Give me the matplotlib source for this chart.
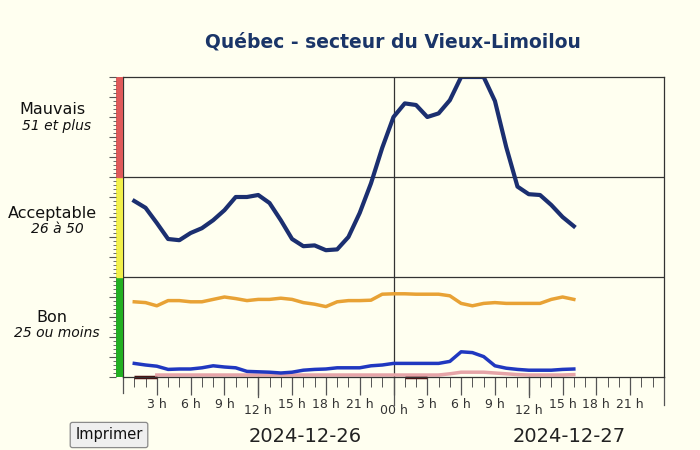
import numpy as np
import matplotlib.pyplot as plt
from matplotlib.ticker import MultipleLocator

hours = list(range(1, 41))
# indice principal (ligne bleu marine)
iqa = [44, 42.3, 38.5, 34.5, 34.2, 36, 37.2, 39.2, 41.7, 45,
       45, 45.5, 43.5, 39.2, 34.5, 32.7, 32.9, 31.7, 31.9, 35,
       41, 48.4, 57.3, 65, 68.4, 68, 65, 65.9, 69.2, 75,
       75, 75, 69, 57.5, 47.6, 45.7, 45.5, 43, 40, 37.7]
orange = [18.8, 18.6, 17.8, 19.1, 19.1, 18.8, 18.8, 19.4, 20, 19.6,
          19.1, 19.4, 19.4, 19.7, 19.4, 18.6, 18.2, 17.6, 18.8, 19.1,
          19.1, 19.2, 20.7, 20.8, 20.8, 20.7, 20.7, 20.7, 20.3, 18.4,
          17.8, 18.4, 18.6, 18.4, 18.4, 18.4, 18.4, 19.4, 20, 19.4]
bleu = [3.4, 3.0, 2.7, 1.9, 2.0, 2.0, 2.3, 2.8, 2.5, 2.3,
        1.4, 1.3, 1.2, 1.0, 1.2, 1.7, 1.9, 2.0, 2.3, 2.3,
        2.3, 2.8, 3.0, 3.4, 3.4, 3.4, 3.4, 3.4, 3.9, 6.3,
        6.1, 5.1, 2.8, 2.2, 1.9, 1.7, 1.7, 1.7, 1.9, 2.0]
rose = [np.nan, np.nan, 0.5, 0.5, 0.5, 0.5, 0.5, 0.5, 0.5, 0.5,
        0.5, 0.5, 0.5, 0.5, 0.5, 0.5, 0.5, 0.5, 0.5, 0.5,
        0.5, 0.5, 0.5, 0.5, 0.5, 0.5, 0.5, 0.5, 0.8, 1.2,
        1.2, 1.2, 1.0, 0.8, 0.6, 0.5, 0.5, 0.5, 0.5, 0.6]
brun = [0, 0, 0, np.nan, np.nan, np.nan, np.nan, np.nan, np.nan, np.nan,
        np.nan, np.nan, np.nan, np.nan, np.nan, np.nan, np.nan, np.nan, np.nan, np.nan,
        np.nan, np.nan, np.nan, np.nan, 0, 0, 0, np.nan, np.nan, np.nan,
        np.nan, np.nan, np.nan, np.nan, np.nan, np.nan, np.nan, np.nan, np.nan, np.nan]

bands = [(0, 25, '#22b022'), (25, 50, '#f2f04a'), (50, 75, '#e05a5a')]
band_names = ['Bon', 'Acceptable', 'Mauvais']
band_ranges = ['25 ou moins', '26 à 50', '51 et plus']
tick_hours = [3, 6, 9, 12, 15, 18, 21, 24, 27, 30, 33, 36, 39, 42, 45]
tick_labels = ['3 h', '6 h', '9 h', '12 h', '15 h', '18 h', '21 h', '00 h',
               '3 h', '6 h', '9 h', '12 h', '15 h', '18 h', '21 h']
dates = ['2024-12-26', '2024-12-27']

bg = '#fffff0'
W, H = 700, 450
fig = plt.figure(figsize=(7, 4.5), dpi=100, facecolor=bg)

def fx(px): return px / W
def fy(py): return 1 - py / H

ax = fig.add_axes([fx(123), fy(377), fx(664 - 123), fy(77) - fy(377)])
ax.set_facecolor(bg)
ax.set_xlim(0, 48)
ax.set_ylim(0, 75)

# barre de couleur à gauche
cax = fig.add_axes([fx(116), fy(377), fx(7), fy(77) - fy(377)])
cax.set_xlim(0, 1)
cax.set_ylim(0, 75)
for lo, hi, c in bands:
    cax.axhspan(lo, hi, color=c)
cax.set_xticks([])
cax.yaxis.set_major_locator(MultipleLocator(5))
cax.yaxis.set_minor_locator(MultipleLocator(1))
cax.tick_params(axis='y', which='major', length=5, width=0.8, color='#555555', labelleft=False)
cax.tick_params(axis='y', which='minor', length=2, width=0.6, color='#555555')
for s in cax.spines.values():
    s.set_visible(False)

ax.axhline(25, color='#333333', lw=0.9)
ax.axhline(50, color='#333333', lw=0.9)
ax.axvline(24, color='#333333', lw=0.9)

ax.plot(hours, brun, color='#4a1010', lw=2.5, solid_capstyle='butt', clip_on=False)
ax.plot(hours, rose, color='#e6a4a8', lw=2.5)
ax.plot(hours, orange, color='#e8a235', lw=2.5)
ax.plot(hours, bleu, color='#2038c0', lw=2.5)
ax.plot(hours, iqa, color='#1b2f70', lw=3)

for s in ax.spines.values():
    s.set_color('#333333')
    s.set_linewidth(0.9)
ax.set_yticks([])

ax.xaxis.set_minor_locator(MultipleLocator(1))
ax.tick_params(axis='x', which='minor', length=7, width=0.7, color='#555555')
ax.set_xticks(tick_hours)
ax.set_xticklabels([])
ax.tick_params(axis='x', which='major', length=13, width=0.9, color='#555555')
# ticks plus longs à minuit / midi
for h, ln in [(0, 16), (12, 20), (24, 28), (36, 20), (48, 28)]:
    ax.plot([h, h], [0, -ln * 75 / 300], color='#555555', lw=0.9, clip_on=False)
for h, lab in zip(tick_hours, tick_labels):
    low = h % 12 == 0
    ax.text(h, -(33 if low else 27) * 75 / 300, lab, ha='center', va='center',
            fontsize=9, color='#333333')

fig.text(fx(393), fy(42), 'Québec - secteur du Vieux-Limoilou', ha='center', va='center',
         fontsize=13.5, fontweight='bold', color='#1a3568')

name_y = [318, 214, 110]
range_y = [333, 229, 126]
for name, rng, ny, ry in zip(band_names, band_ranges, name_y, range_y):
    fig.text(fx(52), fy(ny), name, ha='center', va='center', fontsize=11.5, color='#111111')
    fig.text(fx(57), fy(ry), rng, ha='center', va='center', fontsize=10,
             style='italic', color='#111111')

fig.text(fx(305), fy(436), dates[0], ha='center', va='center', fontsize=14, color='#222222')
fig.text(fx(569), fy(436), dates[1], ha='center', va='center', fontsize=14, color='#222222')
fig.text(fx(109), fy(435), 'Imprimer', ha='center', va='center', fontsize=10.5, color='#111111',
         bbox=dict(boxstyle='round,pad=0.35,rounding_size=0.15', facecolor='#efefef',
                   edgecolor='#8a8a8a', lw=0.9))

fig.savefig('out.png', dpi=100, facecolor=bg)
